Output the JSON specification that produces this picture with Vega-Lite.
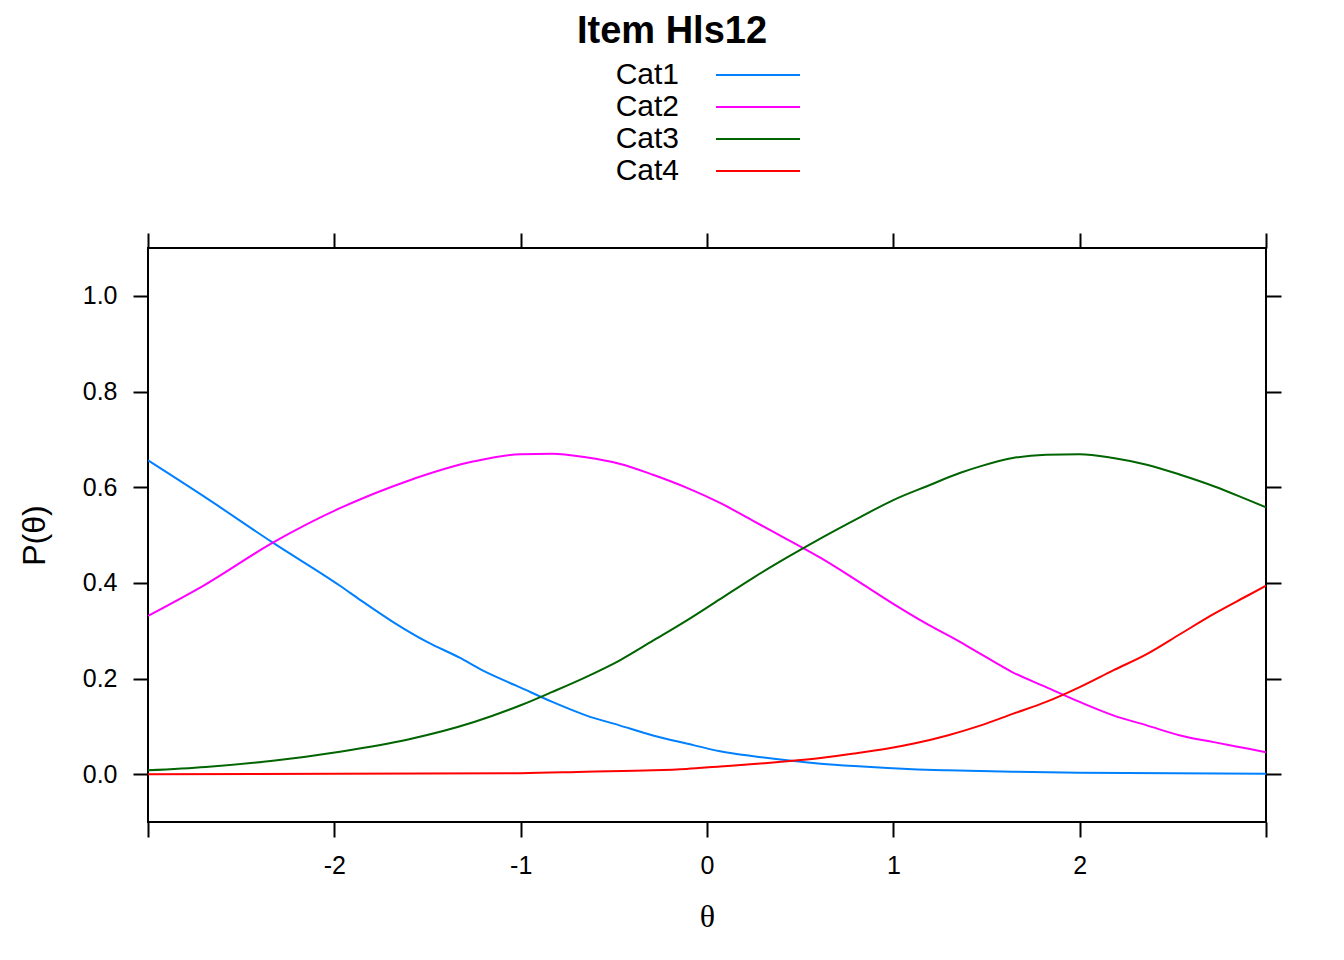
{
  "$schema": "https://vega.github.io/schema/vega-lite/v6.json",
  "width": 1118,
  "height": 574,
  "autosize": {"type": "none"},
  "padding": {"left": 148, "top": 248, "right": 78, "bottom": 138},
  "background": "white",
  "title": {
    "text": "Item Hls12",
    "font": "Liberation Sans",
    "fontSize": 38,
    "fontWeight": "bold",
    "color": "black",
    "anchor": "middle",
    "frame": "group",
    "baseline": "alphabetic",
    "dx": -35,
    "offset": -21
  },
  "config": {
    "view": {"stroke": "black", "strokeWidth": 2},
    "axis": {
      "domain": false,
      "grid": false,
      "tickColor": "black",
      "tickWidth": 2,
      "tickSize": 15,
      "labelColor": "black",
      "titleColor": "black",
      "labelFont": "Liberation Sans",
      "labelFontSize": 25,
      "labelOverlap": false,
      "labelBound": false,
      "labelFlush": false
    }
  },
  "data": {
    "values": [
      {"cat": "Cat1", "theta": -3.00, "p": 0.656},
      {"cat": "Cat1", "theta": -2.69, "p": 0.578},
      {"cat": "Cat1", "theta": -2.33, "p": 0.484},
      {"cat": "Cat1", "theta": -1.97, "p": 0.394},
      {"cat": "Cat1", "theta": -1.86, "p": 0.364},
      {"cat": "Cat1", "theta": -1.68, "p": 0.317},
      {"cat": "Cat1", "theta": -1.50, "p": 0.276},
      {"cat": "Cat1", "theta": -1.33, "p": 0.244},
      {"cat": "Cat1", "theta": -1.21, "p": 0.218},
      {"cat": "Cat1", "theta": -1.00, "p": 0.181},
      {"cat": "Cat1", "theta": -0.83, "p": 0.151},
      {"cat": "Cat1", "theta": -0.65, "p": 0.123},
      {"cat": "Cat1", "theta": -0.47, "p": 0.102},
      {"cat": "Cat1", "theta": -0.29, "p": 0.081},
      {"cat": "Cat1", "theta": -0.11, "p": 0.064},
      {"cat": "Cat1", "theta": 0.07, "p": 0.048},
      {"cat": "Cat1", "theta": 0.25, "p": 0.0375},
      {"cat": "Cat1", "theta": 0.43, "p": 0.029},
      {"cat": "Cat1", "theta": 0.61, "p": 0.022},
      {"cat": "Cat1", "theta": 0.79, "p": 0.017},
      {"cat": "Cat1", "theta": 0.97, "p": 0.013},
      {"cat": "Cat1", "theta": 1.13, "p": 0.010},
      {"cat": "Cat1", "theta": 1.29, "p": 0.008},
      {"cat": "Cat1", "theta": 1.64, "p": 0.005},
      {"cat": "Cat1", "theta": 2.00, "p": 0.003},
      {"cat": "Cat1", "theta": 2.50, "p": 0.002},
      {"cat": "Cat1", "theta": 3.00, "p": 0.001},
      {"cat": "Cat2", "theta": -3.00, "p": 0.331},
      {"cat": "Cat2", "theta": -2.69, "p": 0.397},
      {"cat": "Cat2", "theta": -2.33, "p": 0.484},
      {"cat": "Cat2", "theta": -1.97, "p": 0.556},
      {"cat": "Cat2", "theta": -1.61, "p": 0.6125},
      {"cat": "Cat2", "theta": -1.25, "p": 0.654},
      {"cat": "Cat2", "theta": -1.00, "p": 0.669},
      {"cat": "Cat2", "theta": -0.83, "p": 0.670},
      {"cat": "Cat2", "theta": -0.65, "p": 0.6625},
      {"cat": "Cat2", "theta": -0.47, "p": 0.649},
      {"cat": "Cat2", "theta": -0.29, "p": 0.626},
      {"cat": "Cat2", "theta": -0.11, "p": 0.599},
      {"cat": "Cat2", "theta": 0.07, "p": 0.567},
      {"cat": "Cat2", "theta": 0.25, "p": 0.529},
      {"cat": "Cat2", "theta": 0.43, "p": 0.491},
      {"cat": "Cat2", "theta": 0.61, "p": 0.452},
      {"cat": "Cat2", "theta": 0.82, "p": 0.401},
      {"cat": "Cat2", "theta": 1.00, "p": 0.356},
      {"cat": "Cat2", "theta": 1.18, "p": 0.314},
      {"cat": "Cat2", "theta": 1.36, "p": 0.276},
      {"cat": "Cat2", "theta": 1.47, "p": 0.251},
      {"cat": "Cat2", "theta": 1.64, "p": 0.213},
      {"cat": "Cat2", "theta": 1.82, "p": 0.182},
      {"cat": "Cat2", "theta": 2.00, "p": 0.151},
      {"cat": "Cat2", "theta": 2.18, "p": 0.123},
      {"cat": "Cat2", "theta": 2.36, "p": 0.102},
      {"cat": "Cat2", "theta": 2.54, "p": 0.081},
      {"cat": "Cat2", "theta": 2.72, "p": 0.067},
      {"cat": "Cat2", "theta": 2.90, "p": 0.0535},
      {"cat": "Cat2", "theta": 3.00, "p": 0.046},
      {"cat": "Cat3", "theta": -3.00, "p": 0.008},
      {"cat": "Cat3", "theta": -2.69, "p": 0.015},
      {"cat": "Cat3", "theta": -2.33, "p": 0.028},
      {"cat": "Cat3", "theta": -1.97, "p": 0.047},
      {"cat": "Cat3", "theta": -1.61, "p": 0.072},
      {"cat": "Cat3", "theta": -1.25, "p": 0.109},
      {"cat": "Cat3", "theta": -1.00, "p": 0.144},
      {"cat": "Cat3", "theta": -0.83, "p": 0.172},
      {"cat": "Cat3", "theta": -0.65, "p": 0.203},
      {"cat": "Cat3", "theta": -0.47, "p": 0.2375},
      {"cat": "Cat3", "theta": -0.29, "p": 0.279},
      {"cat": "Cat3", "theta": -0.11, "p": 0.321},
      {"cat": "Cat3", "theta": 0.07, "p": 0.366},
      {"cat": "Cat3", "theta": 0.25, "p": 0.411},
      {"cat": "Cat3", "theta": 0.43, "p": 0.453},
      {"cat": "Cat3", "theta": 0.61, "p": 0.493},
      {"cat": "Cat3", "theta": 0.82, "p": 0.537},
      {"cat": "Cat3", "theta": 1.00, "p": 0.573},
      {"cat": "Cat3", "theta": 1.18, "p": 0.602},
      {"cat": "Cat3", "theta": 1.36, "p": 0.630},
      {"cat": "Cat3", "theta": 1.47, "p": 0.644},
      {"cat": "Cat3", "theta": 1.64, "p": 0.661},
      {"cat": "Cat3", "theta": 1.82, "p": 0.668},
      {"cat": "Cat3", "theta": 2.00, "p": 0.669},
      {"cat": "Cat3", "theta": 2.18, "p": 0.661},
      {"cat": "Cat3", "theta": 2.36, "p": 0.647},
      {"cat": "Cat3", "theta": 2.54, "p": 0.626},
      {"cat": "Cat3", "theta": 2.72, "p": 0.602},
      {"cat": "Cat3", "theta": 2.90, "p": 0.574},
      {"cat": "Cat3", "theta": 3.00, "p": 0.558},
      {"cat": "Cat4", "theta": -3.00, "p": 0.000},
      {"cat": "Cat4", "theta": -2.00, "p": 0.001},
      {"cat": "Cat4", "theta": -1.00, "p": 0.002},
      {"cat": "Cat4", "theta": -0.65, "p": 0.005},
      {"cat": "Cat4", "theta": -0.29, "p": 0.008},
      {"cat": "Cat4", "theta": -0.11, "p": 0.011},
      {"cat": "Cat4", "theta": 0.07, "p": 0.016},
      {"cat": "Cat4", "theta": 0.25, "p": 0.021},
      {"cat": "Cat4", "theta": 0.43, "p": 0.027},
      {"cat": "Cat4", "theta": 0.61, "p": 0.034},
      {"cat": "Cat4", "theta": 0.79, "p": 0.043},
      {"cat": "Cat4", "theta": 0.97, "p": 0.0535},
      {"cat": "Cat4", "theta": 1.11, "p": 0.064},
      {"cat": "Cat4", "theta": 1.29, "p": 0.081},
      {"cat": "Cat4", "theta": 1.47, "p": 0.102},
      {"cat": "Cat4", "theta": 1.64, "p": 0.126},
      {"cat": "Cat4", "theta": 1.82, "p": 0.151},
      {"cat": "Cat4", "theta": 2.00, "p": 0.182},
      {"cat": "Cat4", "theta": 2.18, "p": 0.217},
      {"cat": "Cat4", "theta": 2.36, "p": 0.251},
      {"cat": "Cat4", "theta": 2.54, "p": 0.293},
      {"cat": "Cat4", "theta": 2.72, "p": 0.335},
      {"cat": "Cat4", "theta": 2.90, "p": 0.373},
      {"cat": "Cat4", "theta": 3.00, "p": 0.394}
    ]
  },
  "layer": [
    {
      "mark": {"type": "line", "strokeWidth": 2, "clip": true, "interpolate": "monotone"},
      "encoding": {
        "x": {
          "field": "theta", "type": "quantitative",
          "scale": {"domain": [-3, 3], "nice": false, "zero": false},
          "axis": {
            "orient": "bottom",
            "values": [-3, -2, -1, 0, 1, 2, 3],
            "labelExpr": "datum.value <= -3 || datum.value >= 3 ? '' : toString(datum.value)",
            "labelPadding": 16,
            "title": "θ",
            "titleFont": "Liberation Serif",
            "titleFontSize": 32,
            "titleFontWeight": "normal",
            "titlePadding": 23
          }
        },
        "y": {
          "field": "p", "type": "quantitative",
          "scale": {"domain": [-0.1, 1.1], "nice": false, "zero": false},
          "axis": {
            "orient": "left",
            "values": [0, 0.2, 0.4, 0.6, 0.8, 1.0],
            "format": ".1f",
            "labelPadding": 16,
            "title": "P(θ)",
            "titleFont": "Liberation Sans",
            "titleFontSize": 32,
            "titleFontWeight": "normal",
            "titlePadding": 31
          }
        },
        "color": {
          "field": "cat", "type": "nominal",
          "scale": {"domain": ["Cat1", "Cat2", "Cat3", "Cat4"], "range": ["#0080ff", "#ff00ff", "#006400", "#ff0000"]},
          "legend": {
            "orient": "none",
            "legendX": 595,
            "legendY": -188,
            "title": null,
            "padding": 0,
            "symbolType": "M-4,0L4,0",
            "symbolSize": 441,
            "symbolStrokeWidth": 2,
            "labelFont": "Liberation Sans",
            "labelFontSize": 30,
            "labelColor": "black",
            "labelAlign": "right",
            "labelBaseline": "middle",
            "labelOffset": -94,
            "labelLimit": 0,
            "rowPadding": 2
          }
        }
      }
    },
    {
      "mark": {"type": "line", "strokeOpacity": 0},
      "encoding": {
        "x": {
          "field": "theta", "type": "quantitative",
          "axis": {"orient": "top", "values": [-3, -2, -1, 0, 1, 2, 3], "labels": false, "title": null}
        },
        "y": {
          "field": "p", "type": "quantitative",
          "axis": {"orient": "right", "values": [0, 0.2, 0.4, 0.6, 0.8, 1.0], "labels": false, "title": null}
        },
        "detail": {"field": "cat"}
      }
    }
  ],
  "resolve": {"axis": {"x": "independent", "y": "independent"}}
}
